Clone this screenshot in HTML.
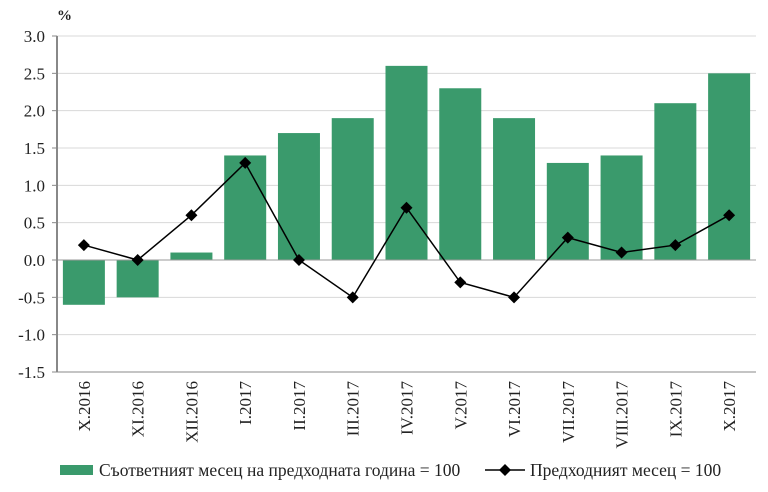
<!DOCTYPE html>
<html><head><meta charset="utf-8"><style>
body{margin:0;background:#fff;}
svg text{font-family:"Liberation Serif",serif;fill:#222;}
</style></head><body>
<svg id="chart" width="768" height="487"></svg>
<script>
const categories=["X.2016","XI.2016","XII.2016","I.2017","II.2017","III.2017","IV.2017","V.2017","VI.2017","VII.2017","VIII.2017","IX.2017","X.2017"];
const yearOverYear=[-0.6,-0.5,0.1,1.4,1.7,1.9,2.6,2.3,1.9,1.3,1.4,2.1,2.5];
const monthOverMonth=[0.2,0.0,0.6,1.3,0.0,-0.5,0.7,-0.3,-0.5,0.3,0.1,0.2,0.6];
const yTicks=[3.0,2.5,2.0,1.5,1.0,0.5,0.0,-0.5,-1.0,-1.5];
const legendLabels=["Съответният месец на предходната година = 100","Предходният месец = 100"];

const NS="http://www.w3.org/2000/svg";
const svg=document.getElementById('chart');
const L=57,R=756,T=36,B=372,yMin=-1.5,yMax=3.0;
const y=v=>T+(yMax-v)/(yMax-yMin)*(B-T);
const bw=(R-L)/categories.length;
const x=i=>L+bw*(i+0.5);
function mk(tag,attrs,parent){const e=document.createElementNS(NS,tag);for(const k in attrs)e.setAttribute(k,attrs[k]);(parent||svg).appendChild(e);return e;}

yTicks.forEach(t=>{
  const g=mk('line',{x1:L,x2:R,y1:y(t),y2:y(t),stroke:t===yMin?'#888':'#d8d8d8','stroke-width':1});
  
  
  mk('line',{x1:L-5,x2:L,y1:y(t),y2:y(t),stroke:'#888'});
  const tx=mk('text',{x:L-12,y:y(t)+6,'text-anchor':'end','font-size':17});
  tx.textContent=t.toFixed(1);
  
  
});
const pc=mk('text',{x:57,y:20,'font-size':15,'text-anchor':'start','font-weight':'bold'});
pc.textContent='%';



yearOverYear.forEach((v,i)=>{
  const top=Math.min(y(v),y(0)),h=Math.abs(y(v)-y(0));
  const b=mk('rect',{x:x(i)-21,y:top,width:42,height:h,fill:'#3a9a6c'});
  
  
});
const zl=mk('line',{x1:L,x2:R,y1:y(0),y2:y(0),stroke:'#999'});


const ax=mk('line',{x1:L,x2:L,y1:T,y2:B,stroke:'#888','stroke-width':2});



const ln=mk('polyline',{points:monthOverMonth.map((v,i)=>x(i)+','+y(v)).join(' '),fill:'none',stroke:'#000','stroke-width':1.5});


monthOverMonth.forEach((v,i)=>{
  const cx=x(i),cy=y(v);
  const p=mk('polygon',{points:`${cx},${cy-6} ${cx+6},${cy} ${cx},${cy+6} ${cx-6},${cy}`,fill:'#000'});
  
  
});

categories.forEach((c,i)=>{
  const t=mk('text',{transform:`translate(${x(i)+6},381) rotate(-90)`,'text-anchor':'end','font-size':17});
  t.textContent=c;
  
  
});

const lg=mk('g',{});


const s1=mk('rect',{x:60,y:465,width:33,height:10,fill:'#3a9a6c'},lg);


const t1=mk('text',{x:99,y:476,'font-size':17.5},lg);
t1.textContent=legendLabels[0];


mk('line',{x1:485,x2:525,y1:470,y2:470,stroke:'#000','stroke-width':1.5},lg);
const d=mk('polygon',{points:'505,464 511,470 505,476 499,470',fill:'#000'},lg);


const t2=mk('text',{x:530,y:476,'font-size':17.5},lg);
t2.textContent=legendLabels[1];


</script>
</body></html>
